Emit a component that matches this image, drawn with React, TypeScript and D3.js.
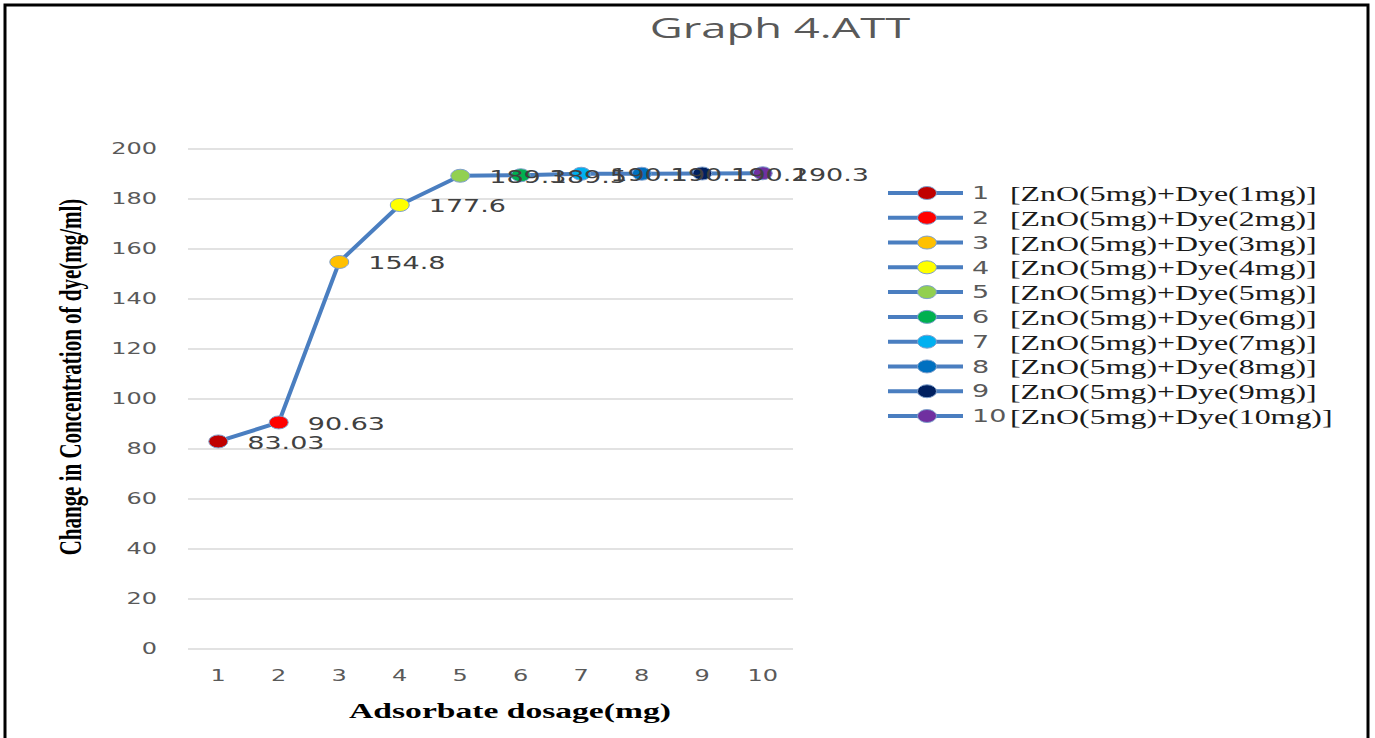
import React from "react";
import * as d3 from "d3";

// Adsorbate dosage categories (mg) and measured change in dye concentration
const dosages = ["1", "2", "3", "4", "5", "6", "7", "8", "9", "10"];
const concentrationChange = [83.03, 90.63, 154.8, 177.6, 189.3, 189.5, 190.1, 190.1, 190.2, 190.3];
const markerColors = [
  "#C00000", "#FF0000", "#FFC000", "#FFFF00", "#92D050",
  "#00B050", "#00B0F0", "#0070C0", "#002060", "#7030A0",
];
const legendNames = [
  "[ZnO(5mg)+Dye(1mg)]", "[ZnO(5mg)+Dye(2mg)]", "[ZnO(5mg)+Dye(3mg)]",
  "[ZnO(5mg)+Dye(4mg)]", "[ZnO(5mg)+Dye(5mg)]", "[ZnO(5mg)+Dye(6mg)]",
  "[ZnO(5mg)+Dye(7mg)]", "[ZnO(5mg)+Dye(8mg)]", "[ZnO(5mg)+Dye(9mg)]",
  "[ZnO(5mg)+Dye(10mg)]",
];
const yTicks = [0, 20, 40, 60, 80, 100, 120, 140, 160, 180, 200];

const W = 1375;
const H = 738;
const LINE = "#4A7EC0";
const SANS = "'DejaVu Sans', Verdana, sans-serif";
const SERIF = "'Liberation Serif', 'Times New Roman', serif";
const SX = 1.5; // horizontal widening used for the lettering

export default function App() {
  const x = d3.scalePoint<string>().domain(dosages).range([188, 793]).padding(0.5);
  const y = d3.scaleLinear().domain([0, 200]).range([649, 149]);

  const pts = dosages.map((d, i) => ({ d, v: concentrationChange[i], c: markerColors[i] }));
  const line = d3
    .line<{ d: string; v: number }>()
    .x((p) => x(p.d) as number)
    .y((p) => y(p.v));

  const legendY = d3.scaleLinear().domain([0, 9]).range([193, 416]);

  return (
    <svg
      width={W}
      height={H}
      style={{ position: "absolute", left: 0, top: 0, background: "#fff" }}
    >
      <rect x={0} y={0} width={W} height={H} fill="#fff" />
      {/* outer frame */}
      <rect x={5} y={5} width={1363} height={760} fill="none" stroke="#000" strokeWidth={3} />

      {/* title */}
      <text
        transform={`translate(780,38) scale(1.62,1)`}
        textAnchor="middle"
        fontFamily="'Open Sans', sans-serif"
        fontSize={28}
        fill="#595959"
      >
        Graph 4.ATT
      </text>

      {/* horizontal gridlines and y tick labels */}
      {yTicks.map((t) => (
        <g key={t}>
          <line x1={188} x2={793} y1={y(t)} y2={y(t)} stroke="#D9D9D9" strokeWidth={1.5} />
          <text
            transform={`translate(157,${y(t)}) scale(${SX},1)`}
            textAnchor="end"
            dominantBaseline="central"
            fontFamily={SANS}
            fontSize={16}
            fill="#595959"
          >
            {t}
          </text>
        </g>
      ))}

      {/* x tick labels */}
      {dosages.map((d) => (
        <text
          key={d}
          transform={`translate(${x(d)},676) scale(${SX},1)`}
          textAnchor="middle"
          dominantBaseline="central"
          fontFamily={SANS}
          fontSize={16}
          fill="#595959"
        >
          {d}
        </text>
      ))}

      {/* axis titles */}
      <text
        transform={`translate(510,718) scale(1.6,1)`}
        textAnchor="middle"
        fontFamily={SERIF}
        fontWeight="bold"
        fontSize={21}
        fill="#000"
      >
        Adsorbate dosage(mg)
      </text>
      <text
        transform={`translate(70,377) scale(${SX},1) rotate(-90)`}
        textAnchor="middle"
        dominantBaseline="central"
        fontFamily={SERIF}
        fontWeight="bold"
        fontSize={21}
        fill="#000"
      >
        Change in Concentration of dye(mg/ml)
      </text>

      {/* series line */}
      <path d={line(pts) ?? ""} fill="none" stroke={LINE} strokeWidth={4} strokeLinejoin="round" />

      {/* markers */}
      {pts.map((p) => (
        <ellipse
          key={p.d}
          cx={x(p.d)}
          cy={y(p.v)}
          rx={9.5}
          ry={6.5}
          fill={p.c}
          stroke="#7FA0CC"
          strokeWidth={1}
        />
      ))}

      {/* value labels */}
      {pts.map((p) => (
        <text
          key={`l${p.d}`}
          transform={`translate(${(x(p.d) as number) + 29},${y(p.v) + 1}) scale(${SX},1)`}
          dominantBaseline="central"
          fontFamily={SANS}
          fontSize={18}
          fill="#404040"
        >
          {p.v}
        </text>
      ))}

      {/* legend */}
      {legendNames.map((name, i) => {
        const ly = legendY(i);
        return (
          <g key={name}>
            <line x1={888} x2={963} y1={ly} y2={ly} stroke={LINE} strokeWidth={4} />
            <ellipse cx={927} cy={ly} rx={9.5} ry={6.5} fill={markerColors[i]} stroke="#7FA0CC" strokeWidth={1} />
            <text
              transform={`translate(972,${ly}) scale(${SX},1)`}
              dominantBaseline="central"
              fontFamily={SANS}
              fontSize={18}
              fill="#595959"
            >
              {dosages[i]}
            </text>
            <text
              transform={`translate(1010,${ly + 8}) scale(1.45,1)`}
              fontFamily={SERIF}
              fontSize={22}
              fill="#1A1A1A"
            >
              {name}
            </text>
          </g>
        );
      })}
    </svg>
  );
}
